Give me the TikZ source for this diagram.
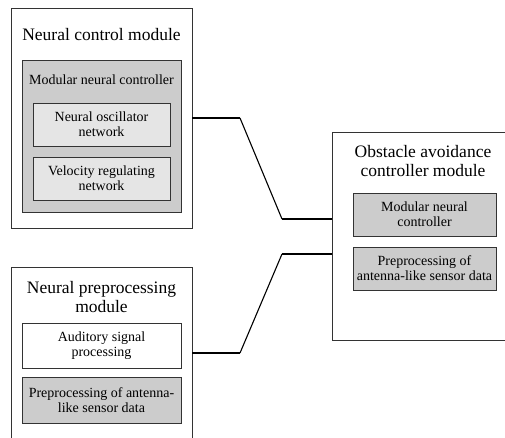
\documentclass[tikz,border=0pt]{standalone}
\usepackage{fontspec}
\setmainfont{Liberation Serif}
\begin{document}
\begin{tikzpicture}[x=1pt, y=-1pt,
    module/.style={draw=black!80, line width=.8pt, fill=white},
    block/.style={draw=black!80, line width=.8pt, fill=gray!40, align=center, inner sep=1pt, font=\fontsize{14}{15}\selectfont},
    subblock/.style={block, fill=gray!20},
    title/.style={align=center, inner sep=1pt, font=\fontsize{17.5}{19}\selectfont},
    bus/.style={line width=2.4pt},
    link/.style={line width=1.1pt}]
\clip (0,0) rectangle (505,437);

% neural control module
\node[module, minimum width=181pt, minimum height=220pt] (ctrl) at (101.5,118) {};
\node[title] (ctrlT) at (101.5,35) {Neural control module};
\node[block, minimum width=159pt, minimum height=152pt] (mnc) at (101.5,136) {};
\node[block, draw=none, fill=none] (mncT) at (101.5,80) {Modular neural controller};
\node[subblock, minimum width=137pt, minimum height=43pt] (osc) at (101.5,124.5) {Neural oscillator\\network};
\node[subblock, minimum width=137pt, minimum height=43pt] (vel) at (101.5,178.5) {Velocity regulating\\network};

% neural preprocessing module
\node[module, minimum width=181pt, minimum height=220pt] (pre) at (101.5,377) {};
\node[title] (preT) at (101.5,297.5) {Neural preprocessing\\module};
\node[block, fill=white, minimum width=159pt, minimum height=45pt] (aud) at (101.5,345.5) {Auditory signal\\processing};
\node[block, minimum width=159pt, minimum height=46pt] (ant) at (101.5,400) {Preprocessing of antenna-\\like sensor data};

% obstacle avoidance controller module
\node[module, minimum width=190pt, minimum height=208pt] (obs) at (427,236) {};
\node[title] (obsT) at (423,161) {Obstacle avoidance\\controller module};
\node[block, minimum width=143pt, minimum height=43pt] (omnc) at (424.5,214.5) {Modular neural\\controller};
\node[block, minimum width=143pt, minimum height=43pt] (oant) at (424.5,268.5) {Preprocessing of\\antenna-like sensor data};

% connections
\coordinate (c1) at (240,118);
\coordinate (c2) at (282,219);
\coordinate (p1) at (240,353);
\coordinate (p2) at (282,254);
\draw[bus] (ctrl.east |- c1)--(c1);
\draw[link] (c1)--(c2);
\draw[bus] (c2)--(obs.west |- c2);
\draw[bus] (pre.east |- p1)--(p1);
\draw[link] (p1)--(p2);
\draw[bus] (p2)--(obs.west |- p2);
\end{tikzpicture}
\end{document}
